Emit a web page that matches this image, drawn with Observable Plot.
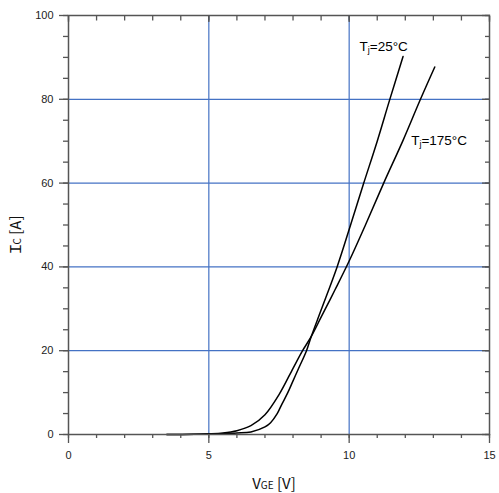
<!DOCTYPE html>
<html><head><meta charset="utf-8">
<script src="https://cdn.jsdelivr.net/npm/d3@7"></script>
<script src="https://cdn.jsdelivr.net/npm/@observablehq/plot@0.6"></script>
<style>body{margin:0;background:#fff} svg{display:block}</style>
</head><body><div id="chart"></div>
<script>
// Tj = 25°C transfer curve
const vge25 = [3.5, 4.5, 5, 5.5, 6, 6.5, 7, 7.2, 7.43, 7.6, 7.8, 8.0, 8.2, 8.48, 8.65, 9, 9.57, 10.05, 10.5, 11, 11.44, 11.92];
const ic25  = [0, 0.03, 0.1, 0.2, 0.35, 0.6, 1.8, 2.8, 4.9, 7.2, 9.8, 12.8, 15.8, 20, 23.4, 29.7, 40, 50, 59.6, 70, 79.8, 90.2];
// Tj = 175°C transfer curve
const vge175 = [3.5, 4.5, 5, 5.5, 6, 6.5, 7, 7.5, 8, 8.32, 8.65, 9, 9.5, 10, 10.58, 11.23, 11.92, 12.54, 13.05];
const ic175  = [0, 0.05, 0.15, 0.35, 0.9, 2.1, 4.7, 9.5, 15.8, 19.8, 23.4, 28, 34.6, 41.4, 50, 60, 70.2, 80, 87.7];

const curveLabels = ["Tj=25°C", "Tj=175°C"];
const labelX = [10.37, 12.21];
const labelY = [91.6, 69.0];

const xTicks = [0, 5, 10, 15];
const xMinor = [0,1,2,3,4,5,6,7,8,9,10,11,12,13,14,15];
const yTicks = [0, 20, 40, 60, 80, 100];
const yMinor = [0,5,10,15,20,25,30,35,40,45,50,55,60,65,70,75,80,85,90,95,100];
const xGrid = [5, 10];
const yGrid = [20, 40, 60, 80];

const gridColor = "#4472c4";
const axisColor = "#555";
const none = () => "";

const chart = Plot.plot({
  width: 499, height: 493,
  marginLeft: 68, marginRight: 10, marginTop: 15, marginBottom: 59,
  style: {fontFamily: "'Liberation Sans', Arial, sans-serif", fontSize: "11px", color: "#222", background: "#fff"},
  x: {domain: [0, 15]},
  y: {domain: [0, 100]},
  marks: [
    Plot.gridX(xGrid, {stroke: gridColor, strokeOpacity: 1, strokeWidth: 1.2}),
    Plot.gridY(yGrid, {stroke: gridColor, strokeOpacity: 1, strokeWidth: 1.2}),
    Plot.line(ic25, {x: vge25, y: ic25, curve: "catmull-rom", stroke: "#000", strokeWidth: 1.5}),
    Plot.line(ic175, {x: vge175, y: ic175, curve: "catmull-rom", stroke: "#000", strokeWidth: 1.5}),
    Plot.frame({stroke: axisColor, strokeWidth: 1.5}),
    // bottom
    Plot.axisX(xTicks, {anchor: "bottom", tickSize: 9, tickPadding: 8, stroke: axisColor, strokeWidth: 1.3, label: null}),
    Plot.axisX(xMinor, {anchor: "bottom", tickSize: 4, tickFormat: none, stroke: axisColor, strokeWidth: 1.3, label: null}),
    // top (inward)
    Plot.axisX(xMinor, {anchor: "top", tickSize: 4.5, dy: 4.5, tickFormat: none, stroke: axisColor, strokeWidth: 1.3, label: null}),
    Plot.axisX(xTicks, {anchor: "top", tickSize: 6, dy: 6, tickFormat: none, stroke: axisColor, strokeWidth: 1.3, label: null}),
    // left
    Plot.axisY(yTicks, {anchor: "left", tickSize: 9, tickPadding: 6, stroke: axisColor, strokeWidth: 1.3, label: null}),
    Plot.axisY(yMinor, {anchor: "left", tickSize: 5, tickFormat: none, stroke: axisColor, strokeWidth: 1.3, label: null}),
    // right (inward)
    Plot.axisY(yMinor, {anchor: "right", tickSize: 5, dx: -5, tickFormat: none, stroke: axisColor, strokeWidth: 1.3, label: null}),
    Plot.axisY(yTicks, {anchor: "right", tickSize: 8, dx: -8, tickFormat: none, stroke: axisColor, strokeWidth: 1.3, label: null}),
    Plot.text(curveLabels, {x: labelX, y: labelY, text: d => d, textAnchor: "start", lineAnchor: "bottom", fontSize: 13.5, fill: "#000"})
  ]
});

const svg = d3.select(chart);
// subscripts in curve labels
svg.selectAll("text").each(function() {
  const t = d3.select(this);
  const s = this.textContent;
  if (s.startsWith("Tj=")) {
    t.text(null);
    t.append("tspan").text("T");
    t.append("tspan").attr("font-size", 9).attr("dy", 2).text("j");
    t.append("tspan").attr("dy", -2).text(s.slice(2));
  }
});
// axis titles
const titleFont = "'Noto Sans CJK JP', 'DejaVu Sans', sans-serif";
const xt = svg.append("text").attr("x", 274).attr("y", 489).attr("text-anchor", "middle")
  .attr("font-family", titleFont).attr("font-size", 15).attr("fill", "#111");
xt.append("tspan").text("V");
xt.append("tspan").attr("font-size", 10).text("GE");
xt.append("tspan").text(" [V]");
const yt = svg.append("text").attr("transform", "translate(21,236) rotate(-90)").attr("text-anchor", "middle")
  .attr("font-family", titleFont).attr("font-size", 15).attr("fill", "#111");
yt.append("tspan").text("Ｉ");
yt.append("tspan").attr("font-size", 10).attr("dx", -3).text("C");
yt.append("tspan").text(" [A]");

document.getElementById("chart").appendChild(chart);
</script>
</body></html>
